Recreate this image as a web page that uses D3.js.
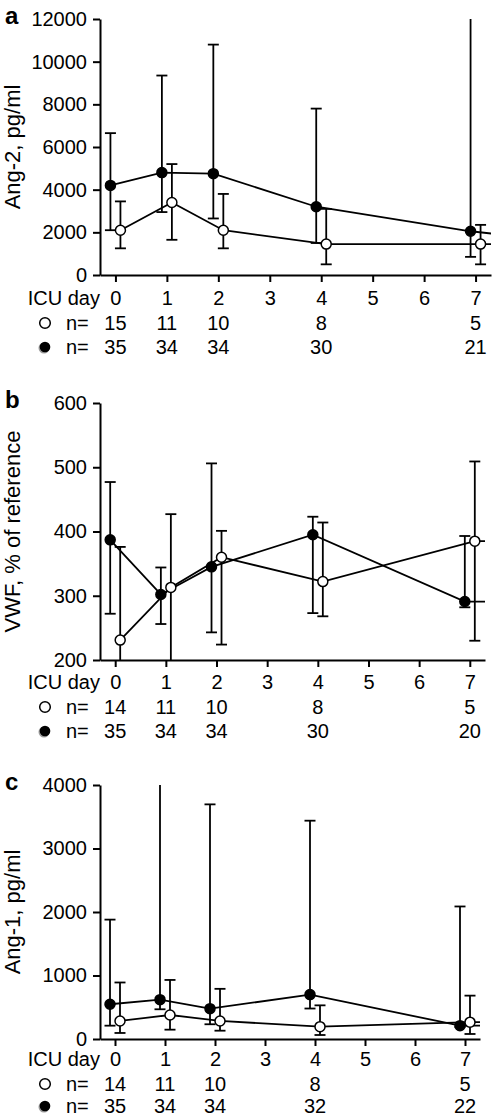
<!DOCTYPE html>
<html><head><meta charset="utf-8">
<script src="https://cdn.jsdelivr.net/npm/d3@7"></script>
<style>
body{margin:0;background:#fff;}
svg{display:block;font-family:"Liberation Sans",Arial,Helvetica,sans-serif;}
</style></head><body>
<svg id="chart" width="497" height="1117"></svg>
<script>
// ---------- data ----------
const days = [0, 1, 2, 4, 7];
const tailDay = 8;               // continuation beyond the plotted range (clipped)
const dayTicks = [0, 1, 2, 3, 4, 5, 6, 7];

// Panel a: Ang-2, pg/ml
const ang2Ticks = [0, 2000, 4000, 6000, 8000, 10000, 12000];
const ang2OpenMed = [2100, 3400, 2100, 1450, 1450];
const ang2OpenLo  = [1250, 1650, 1250, 500, 500];
const ang2OpenHi  = [3450, 5200, 3800, 3100, 2350];
const ang2OpenTail = 1450;
const ang2FilledMed = [4200, 4800, 4750, 3200, 2050];
const ang2FilledLo  = [2100, 2950, 2650, 1500, 850];
const ang2FilledHi  = [6650, 9350, 10800, 7800, 12500];
const ang2FilledTail = 1790;
const ang2NOpen   = [15, 11, 10, 8, 5];
const ang2NFilled = [35, 34, 34, 30, 21];

// Panel b: VWF, % of reference
const vwfTicks = [200, 300, 400, 500, 600];
const vwfOpenMed = [231, 313, 360, 322, 385];
const vwfOpenLo  = [190, 190, 224, 268, 230];
const vwfOpenHi  = [376, 427, 401, 414, 509];
const vwfOpenTail = 385;
const vwfFilledMed = [387, 302, 345, 395, 291];
const vwfFilledLo  = [272, 256, 243, 273, 282];
const vwfFilledHi  = [477, 344, 506, 423, 393];
const vwfFilledTail = 291;
const vwfNOpen   = [14, 11, 10, 8, 5];
const vwfNFilled = [35, 34, 34, 30, 20];

// Panel c: Ang-1, pg/ml
const ang1Ticks = [0, 1000, 2000, 3000, 4000];
const ang1OpenMed = [284, 378, 284, 194, 265];
const ang1OpenLo  = [95, 147, 131, 63, 79];
const ang1OpenHi  = [890, 930, 790, 530, 683];
const ang1OpenTail = 265;
const ang1FilledMed = [547, 620, 478, 699, 210];
const ang1FilledLo  = [210, 468, 232, 480, 190];
const ang1FilledHi  = [1880, 4500, 3695, 3438, 2087];
const ang1FilledTail = 215;
const ang1NOpen   = [14, 11, 10, 8, 5];
const ang1NFilled = [35, 34, 34, 32, 22];

// ---------- panel table built from the arrays ----------
function series(med, lo, hi, tail, n) {
  return { pts: days.map((d, i) => ({ d, v: med[i], lo: lo[i], hi: hi[i], n: n[i] })), tail };
}
const panels = [
  { letter: "a", label: "Ang-2, pg/ml", ticks: ang2Ticks,
    open: series(ang2OpenMed, ang2OpenLo, ang2OpenHi, ang2OpenTail, ang2NOpen),
    filled: series(ang2FilledMed, ang2FilledLo, ang2FilledHi, ang2FilledTail, ang2NFilled),
    top: 19, bottom: 275, right: 491, dayOff: 30, n1: 55, n2: 79 },
  { letter: "b", label: "VWF, % of reference", ticks: vwfTicks,
    open: series(vwfOpenMed, vwfOpenLo, vwfOpenHi, vwfOpenTail, vwfNOpen),
    filled: series(vwfFilledMed, vwfFilledLo, vwfFilledHi, vwfFilledTail, vwfNFilled),
    top: 403, bottom: 660, right: 485, dayOff: 29, n1: 54, n2: 78 },
  { letter: "c", label: "Ang-1, pg/ml", ticks: ang1Ticks,
    open: series(ang1OpenMed, ang1OpenLo, ang1OpenHi, ang1OpenTail, ang1NOpen),
    filled: series(ang1FilledMed, ang1FilledLo, ang1FilledHi, ang1FilledTail, ang1NFilled),
    top: 785, bottom: 1039, right: 480, dayOff: 27, n1: 52, n2: 74 }
];

// ---------- drawing ----------
const svg = d3.select("#chart");
const left = 100;
const FS = 20;
const R = 5;
const SW = 1.8;
const CAP = 5.5;
const OFF = 5;

panels.forEach((p, pi) => {
  const g = svg.append("g");
  const y = d3.scaleLinear().domain(d3.extent(p.ticks)).range([p.bottom, p.top]);
  const x = d3.scaleLinear().domain([-0.3, 7.3]).range([left, p.right]);
  const yMin = y.domain()[0], yMax = y.domain()[1];

  const clipId = "clip" + pi;
  svg.append("clipPath").attr("id", clipId).append("rect")
    .attr("x", x(-0.3)).attr("y", y(yMax)).attr("width", x(7.3) - x(-0.3)).attr("height", y(yMin) - y(yMax));

  // y axis
  const ya = g.append("g").attr("transform", `translate(${left},0)`)
    .call(d3.axisLeft(y).tickValues(p.ticks).tickSize(7).tickSizeOuter(0).tickPadding(6).tickFormat(d3.format("d")));
  // x axis
  const xa = g.append("g").attr("transform", `translate(0,${p.bottom})`)
    .call(d3.axisBottom(x).tickValues(dayTicks).tickSize(7).tickSizeOuter(0)
      .tickPadding(p.dayOff - 7 - FS * 0.71).tickFormat(d3.format("d")));
  [ya, xa].forEach(a => {
    a.selectAll("path,line").attr("stroke", "#000").attr("stroke-width", 2);
    a.selectAll("text").attr("font-size", FS).attr("fill", "#000").attr("font-family", null);
  });

  // ICU day label
  g.append("text").attr("x", left).attr("y", p.bottom + p.dayOff).attr("text-anchor", "end")
    .attr("font-size", FS).text("ICU day");

  // n rows
  const rows = [{ s: p.open, yy: p.bottom + p.n1, filled: false }, { s: p.filled, yy: p.bottom + p.n2, filled: true }];
  rows.forEach(r => {
    const cy = r.yy - 7;
    if (r.filled) {
      g.append("circle").attr("cx", 44).attr("cy", cy + 1).attr("r", R + 0.5).attr("fill", "#999");
      g.append("circle").attr("cx", 45).attr("cy", cy).attr("r", R + 0.3).attr("fill", "#000");
    } else {
      g.append("circle").attr("cx", 45).attr("cy", cy).attr("r", R + 0.3).attr("fill", "#fff")
        .attr("stroke", "#000").attr("stroke-width", 1.5);
    }
    g.append("text").attr("x", 66).attr("y", r.yy).attr("font-size", FS).text("n=");
    g.selectAll(null).data(r.s.pts).enter().append("text")
      .attr("x", d => x(d.d)).attr("y", r.yy).attr("text-anchor", "middle").attr("font-size", FS)
      .text(d => d.n);
  });

  // y label
  g.append("text").attr("transform", `translate(20,${(p.top + p.bottom) / 2}) rotate(-90)`)
    .attr("text-anchor", "middle").attr("font-size", 22).text(p.label);
  // panel letter
  g.append("text").attr("x", 5).attr("y", p.top + 5).attr("font-size", 24).attr("font-weight", "bold")
    .text(p.letter);

  // data
  const plot = g.append("g").attr("clip-path", `url(#${clipId})`);
  const sets = [{ s: p.filled, off: -OFF, filled: true }, { s: p.open, off: OFF, filled: false }];
  const line = d3.line().x(d => d.px).y(d => y(d.v));
  sets.forEach(st => {
    const pts = st.s.pts.map(d => ({ ...d, px: x(d.d) + st.off }));
    const withTail = pts.concat([{ px: x(tailDay) + st.off, v: st.s.tail }]);
    plot.append("path").datum(withTail).attr("d", line).attr("fill", "none")
      .attr("stroke", "#000").attr("stroke-width", SW);
    st.pts = pts;
  });
  sets.forEach(st => {
    const eb = plot.selectAll(null).data(st.pts).enter().append("g");
    eb.append("line").attr("x1", d => d.px).attr("x2", d => d.px)
      .attr("y1", d => y(Math.max(d.lo, yMin))).attr("y2", d => y(Math.min(d.hi, yMax)))
      .attr("stroke", "#000").attr("stroke-width", SW);
    eb.filter(d => d.hi <= yMax).append("line").attr("x1", d => d.px - CAP).attr("x2", d => d.px + CAP)
      .attr("y1", d => y(d.hi)).attr("y2", d => y(d.hi)).attr("stroke", "#000").attr("stroke-width", SW);
    eb.filter(d => d.lo >= yMin).append("line").attr("x1", d => d.px - CAP).attr("x2", d => d.px + CAP)
      .attr("y1", d => y(d.lo)).attr("y2", d => y(d.lo)).attr("stroke", "#000").attr("stroke-width", SW);
  });
  sets.forEach(st => {
    g.selectAll(null).data(st.pts).enter().append("circle")
      .attr("cx", d => d.px).attr("cy", d => y(d.v)).attr("r", R)
      .attr("fill", st.filled ? "#000" : "#fff").attr("stroke", "#000").attr("stroke-width", 1.5);
  });
});
</script>
</body></html>
